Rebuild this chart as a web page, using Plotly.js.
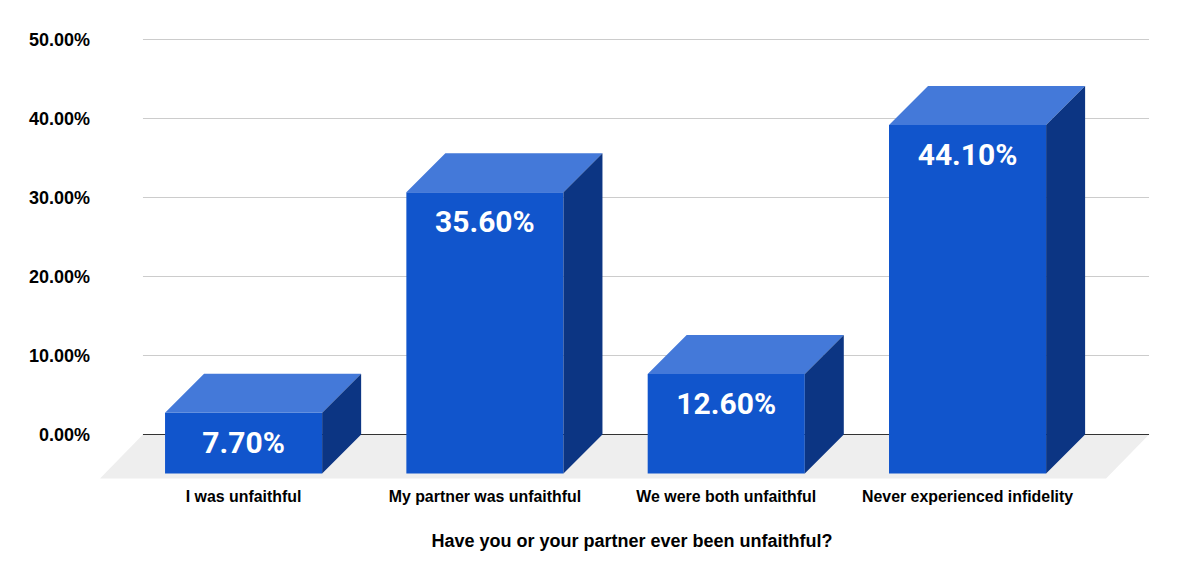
<!DOCTYPE html>
<html>
<head>
<meta charset="utf-8">
<script src="https://cdn.plot.ly/plotly-3.0.1.min.js"></script>
<style>html,body{margin:0;padding:0;background:#fff}#chart{width:1179px;height:582px}</style>
</head>
<body>
<div id="chart"></div>
<script>
const categories = ["I was unfaithful", "My partner was unfaithful", "We were both unfaithful", "Never experienced infidelity"];
const values = [7.7, 35.6, 12.6, 44.1];
const yTicks = [0, 10, 20, 30, 40, 50];
const yTickLabels = ["0.00%", "10.00%", "20.00%", "30.00%", "40.00%", "50.00%"];
const xTitle = "Have you or your partner ever been unfaithful?";

const positions = categories.map((_, i) => i);
const barWidth = 0.651, depthX = 0.1616, depthY = 4.937;
const labelDrop = 4.1;
const floorBackLeft = -0.417, floorBackRight = 3.752, floorFrontLeft = -0.595, floorFrontRight = 3.574, floorBottom = -5.57;

function polygons(fn) {
  const xs = [], ys = [];
  positions.forEach((p, i) => {
    fn(p, values[i]).forEach(c => { xs.push(c[0]); ys.push(c[1]); });
    xs.push(null); ys.push(null);
  });
  return {x: xs, y: ys};
}
const half = barWidth / 2;
const topFaces = polygons((p, v) => [[p - half, v - depthY], [p + half, v - depthY], [p + half + depthX, v], [p - half + depthX, v], [p - half, v - depthY]]);
const sideFaces = polygons((p, v) => [[p + half, -depthY], [p + half + depthX, 0], [p + half + depthX, v], [p + half, v - depthY], [p + half, -depthY]]);

const traces = [
  {type: "bar", x: positions, y: values, base: -depthY, width: barWidth,
   marker: {color: "#1155cc", line: {width: 0}}, showlegend: false},
  {type: "scatter", mode: "lines", hoverinfo: "skip", showlegend: false,
   x: topFaces.x, y: topFaces.y, fill: "toself", fillcolor: "#4479d9", line: {width: 0}},
  {type: "scatter", mode: "lines", hoverinfo: "skip", showlegend: false,
   x: sideFaces.x, y: sideFaces.y, fill: "toself", fillcolor: "#0c3583", line: {width: 0}},
  {type: "scatter", mode: "text", hoverinfo: "skip", showlegend: false,
   x: positions, y: values.map(v => v - depthY - labelDrop),
   text: values.map(v => v.toFixed(2) + "%"), textposition: "middle center",
   textfont: {family: "Roboto", size: 30, color: "#ffffff", weight: 700}}
];

const gridShapes = yTicks.filter(t => t !== 0).map(t => ({
  type: "line", layer: "below", xref: "x", yref: "y",
  x0: floorBackLeft, x1: floorBackRight, y0: t, y1: t, line: {color: "#cccccc", width: 1}
}));
const floorShape = {
  type: "path", layer: "below", xref: "x", yref: "y", fillcolor: "#eeeeee", line: {width: 0},
  path: `M ${floorBackLeft} 0 L ${floorBackRight} 0 L ${floorFrontRight} ${floorBottom} L ${floorFrontLeft} ${floorBottom} Z`
};
const baseline = {
  type: "line", layer: "below", xref: "x", yref: "y",
  x0: floorBackLeft, x1: floorBackRight, y0: 0, y1: 0, line: {color: "#333333", width: 1}
};

const layout = {
  width: 1179, height: 582,
  paper_bgcolor: "#ffffff", plot_bgcolor: "rgba(0,0,0,0)",
  margin: {l: 100, r: 15, t: 30, b: 103, pad: 0},
  showlegend: false,
  font: {family: "Liberation Sans", color: "#000000"},
  xaxis: {
    range: [-0.595, 3.814], showgrid: false, zeroline: false, showline: false,
    tickmode: "array", tickvals: positions, ticktext: categories, ticks: "",
    ticklabelstandoff: 6,
    tickfont: {family: "Liberation Sans", size: 15.9, color: "#000000", weight: 700},
    title: {text: xTitle, standoff: 30, font: {family: "Liberation Sans", size: 18, color: "#000000", weight: 700}}
  },
  yaxis: {
    range: [-5.6329, 51.2025], showgrid: false, zeroline: false, showline: false,
    tickmode: "array", tickvals: yTicks, ticktext: yTickLabels, ticks: "",
    ticklabelstandoff: 9,
    tickfont: {family: "Liberation Sans", size: 18, color: "#000000", weight: 700}
  },
  shapes: [...gridShapes, floorShape, baseline]
};
Plotly.newPlot("chart", traces, layout, {displayModeBar: false, staticPlot: true});
</script>
</body>
</html>
